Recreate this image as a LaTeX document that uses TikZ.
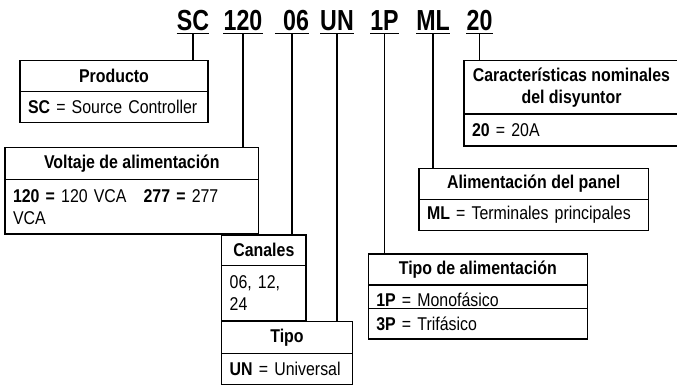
\documentclass[tikz,border=0pt]{standalone}
\usepackage{fontspec}
\setmainfont{Liberation Sans}[FakeStretch=0.86]
\newfontfamily\codefont{Liberation Sans}[FakeStretch=0.8]
\usepackage{tikz}
\usetikzlibrary{positioning}

\newcommand{\bodysize}{\fontsize{18.5}{22}\selectfont}

\begin{document}
\begin{tikzpicture}[x=1pt,y=-1pt,
		code/.style={font=\codefont\fontsize{29}{30}\selectfont\bfseries,anchor=base,
			inner xsep=0pt,inner ysep=3pt},
		hdr/.style={draw,line width=1.3pt,outer sep=0pt,inner sep=0pt,
			font=\bodysize\bfseries,align=center},
		bdy/.style={draw,line width=1.3pt,outer sep=0pt,inner xsep=8pt,inner ysep=0pt,
			font=\bodysize,align=left},
		link/.style={draw,line width=1.3pt}]

		\clip (0,0) rectangle (677,384);
		\useasboundingbox (0,0) rectangle (677,384);

		% codigo del producto
		\node[code] (sc) at (193,30) {SC};
		\node[code] (v120) at (243,30) {120};
		\node[code] (c06) at (292,30) {\hspace*{8pt}06};
		\node[code] (un) at (337,30) {UN};
		\node[code] (p1) at (384.5,30) {1P};
		\node[code] (ml) at (433,30) {ML};
		\node[code] (a20) at (479.5,30) {20};

		\foreach \n in {sc,v120,c06,un,p1,ml,a20}
			\draw[line width=1.3pt] (\n.south west) -- (\n.south east);

		% cajas
		\node[hdr,minimum width=188pt,minimum height=31pt,anchor=north west] (prodh) at (20,60.7) {Producto};
		\node[bdy,text width=172pt,minimum height=31pt,below=0pt of prodh] (prodb) {\textbf{SC} = Source Controller};

		\node[hdr,minimum width=253.7pt,minimum height=32pt,anchor=north west] (volth) at (5,147.3) {Voltaje de alimentación};
		\node[bdy,text width=237.7pt,minimum height=54.7pt,below=0pt of volth] (voltb) {\textbf{120 =} 120 VCA\hspace*{17pt}\textbf{277 =} 277\\VCA};

		\node[hdr,minimum width=84.3pt,minimum height=30.7pt,anchor=north west] (canh) at (221.7,235) {Canales};
		\node[bdy,text width=68.3pt,minimum height=55.3pt,below=0pt of canh] (canb) {06, 12,\\24};

		\node[hdr,minimum width=130.6pt,minimum height=31.6pt,anchor=north west] (tipoh) at (221.7,321.7) {Tipo};
		\node[bdy,text width=114.6pt,minimum height=31pt,below=0pt of tipoh] (tipob) {\textbf{UN} = Universal};

		\node[hdr,minimum width=219pt,minimum height=31pt,anchor=north west] (alimh) at (368.3,254) {Tipo de alimentación};
		\node[bdy,text width=203pt,minimum height=54pt,below=0pt of alimh] (alimb) {\textbf{1P} = Monofásico\\[2pt]\textbf{3P} = Trifásico};
		\draw[line width=1.3pt] ([yshift=-23.3pt]alimb.north west) -- ([yshift=-23.3pt]alimb.north east);

		\node[hdr,minimum width=229.3pt,minimum height=31pt,anchor=north west] (panelh) at (419,168.3) {Alimentación del panel};
		\node[bdy,text width=213.3pt,minimum height=31.4pt,below=0pt of panelh] (panelb) {\textbf{ML} = Terminales principales};

		\node[hdr,minimum width=215pt,minimum height=53.3pt,anchor=north west] (carh) at (464,60.7) {Características nominales\\del disyuntor};
		\node[bdy,text width=199pt,minimum height=32pt,below=0pt of carh] (carb) {\textbf{20} = 20A};

		% conectores
		\path[link]
		(sc.south) edge (sc.south |- prodh.north)
		(v120.south) edge (v120.south |- volth.north)
		(c06.south) edge (c06.south |- canh.north)
		(un.south) edge (un.south |- tipoh.north)
		(p1.south) edge (p1.south |- alimh.north)
		(ml.south) edge (ml.south |- panelh.north)
		(a20.south) edge (a20.south |- carh.north);
\end{tikzpicture}
\end{document}
